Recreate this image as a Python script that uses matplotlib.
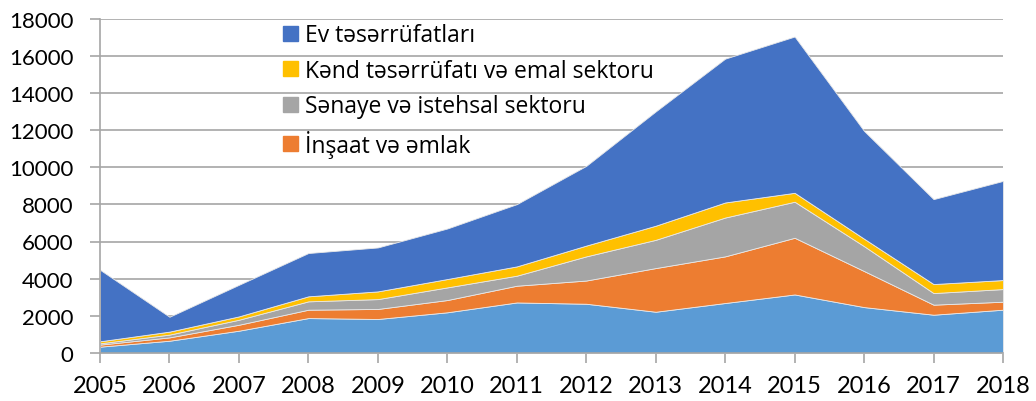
import matplotlib
matplotlib.use("Agg")
import matplotlib.pyplot as plt
from matplotlib.patches import Patch

illər = list(range(2005, 2019))

# seriyalar (alt qatdan yuxarı)
digər = [340, 660, 1200, 1880, 1830, 2190, 2720, 2650, 2220, 2690, 3150, 2470, 2060, 2330]
insaat = [110, 180, 320, 450, 540, 660, 900, 1250, 2350, 2510, 3050, 1940, 540, 430]
senaye = [70, 150, 270, 450, 530, 680, 540, 1300, 1520, 2090, 1940, 1340, 625, 680]
kend = [110, 160, 180, 270, 415, 450, 500, 580, 760, 810, 480, 400, 485, 485]
ev = [3850, 800, 1700, 2330, 2365, 2720, 3350, 4290, 6150, 7740, 8410, 5800, 4570, 5335]

adlar = ["Digər", "İnşaat və əmlak", "Sənaye və istehsal sektoru",
         "Kənd təsərrüfatı və emal sektoru", "Ev təsərrüfatları"]
rənglər = ["#5B9BD5", "#ED7D31", "#A5A5A5", "#FFC000", "#4472C4"]

plt.rcParams['font.family'] = ['Lato', 'DejaVu Sans']

fig = plt.figure(figsize=(10.36, 4.02), dpi=100)
ax = fig.add_axes([100/1036, 1 - 354/402, 903/1036, 334.5/402])

ax.stackplot(illər, digər, insaat, senaye, kend, ev, colors=rənglər,
             edgecolor="#e8e8e8", linewidth=0.6, zorder=2)

ax.set_xlim(2005, 2018)
ax.set_ylim(0, 18000)
ax.set_xticks(illər)
ax.set_yticks(range(0, 18001, 2000))
ax.grid(axis="y", color="#a6a6a6", linewidth=1.2, zorder=0)
ax.set_axisbelow(True)

for s in ["top", "right"]:
    ax.spines[s].set_visible(False)
ax.spines["left"].set_color("#a6a6a6")
ax.spines["bottom"].set_color("#a6a6a6")
ax.spines["left"].set_linewidth(1.2)
ax.spines["bottom"].set_linewidth(1.2)
ax.tick_params(axis="y", length=7, width=1.2, color="#a6a6a6", labelsize=16, pad=12)
ax.tick_params(axis="x", length=7, width=1.2, color="#a6a6a6", labelsize=17, pad=9)

əl = [Patch(color=rənglər[i]) for i in [4, 3, 2, 1]]
ax.legend(əl, [adlar[i] for i in [4, 3, 2, 1]], loc="upper left",
          bbox_to_anchor=(272/1036, 1 - 13/402), bbox_transform=fig.transFigure,
          frameon=False, prop={"family": "Open Sans", "size": 16.5},
          handlelength=0.62, handleheight=0.62,
          handletextpad=0.3, labelspacing=0.5, borderpad=0)

fig.savefig("out.png", dpi=100)
